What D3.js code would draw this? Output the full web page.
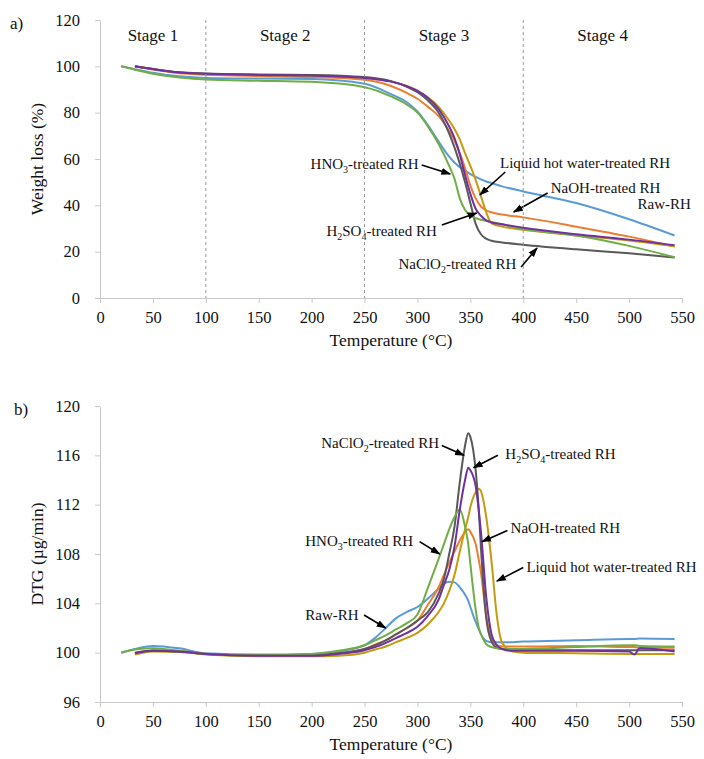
<!DOCTYPE html>
<html>
<head>
<meta charset="utf-8">
<script src="https://cdn.jsdelivr.net/npm/d3@7"></script>
<style>
body { margin: 0; background: #fff; }
svg { font-family: "Liberation Serif", "Times New Roman", serif; }
</style>
</head>
<body>
<svg id="chart" width="704" height="759"></svg>
<script>
// series order / colours
var seriesNames = ["Raw-RH", "NaOH-treated RH", "Liquid hot water-treated RH", "NaClO2-treated RH", "HNO3-treated RH", "H2SO4-treated RH"];
var seriesColors = ["#5b9bd5", "#ed7d31", "#c59a0e", "#595959", "#70ad47", "#7030a0"];

var xTicks = [0, 50, 100, 150, 200, 250, 300, 350, 400, 450, 500, 550];
var tgTicks = [0, 20, 40, 60, 80, 100, 120];
var dtgTicks = [96, 100, 104, 108, 112, 116, 120];

var stageBounds = [100, 250, 400];
var stageLabels = ["Stage 1", "Stage 2", "Stage 3", "Stage 4"];
var stageCenters = [50, 175, 325, 475];

// a) weight loss (%)
var tgTemps = [20, 33, 50, 75, 100, 150, 200, 250, 275, 290, 300, 310, 320, 330, 335, 340, 345, 350, 355, 360, 365, 370, 380, 400, 450, 500, 543];
var tgRaw    = [100, 98.8, 97.2, 95.7, 95.0, 94.7, 94.5, 92.5, 88, 84.5, 80.5, 74.5, 67.5, 61, 58.5, 56.5, 55, 53.5, 52.3, 51.2, 50.3, 49.6, 48.2, 46, 41, 34, 27];
var tgNaOH   = [null, 100, 98.6, 97, 96.4, 95.8, 95.4, 94.2, 91.5, 88.5, 86, 82.5, 78.5, 72, 68, 62.5, 56, 48.5, 43, 39.5, 37.8, 37, 36, 34.8, 30.8, 26.5, 22.2];
var tgLHW    = [null, 100, 98.8, 97.3, 96.7, 96.2, 95.9, 95, 93.5, 91.5, 89.5, 86.5, 82.5, 76.5, 73, 68.5, 62.5, 57, 51, 44, 37, 32.2, 30.8, 29.5, 27, 24.8, 22.3];
var tgNaClO2 = [null, 100, 98.8, 97.4, 96.9, 96.5, 96.3, 95.4, 93.6, 91.2, 88.8, 85.2, 80, 71, 65, 58, 50, 41, 32, 27.5, 25.6, 24.7, 24, 23, 21, 19.3, 17.5];
var tgHNO3   = [100, 98.5, 96.8, 95.2, 94.3, 93.8, 93.3, 91, 87, 83.5, 80, 74, 66.5, 57, 51.5, 43, 38, 35.5, 34.5, 33.8, 33.3, 32.8, 31.8, 29.8, 27, 22.5, 17.6];
var tgH2SO4  = [null, 100, 98.8, 97.3, 96.8, 96.3, 96, 95, 93.4, 91.4, 89.4, 86.3, 81.5, 74, 69, 62, 53, 45, 38.5, 35.5, 33.5, 32.6, 31.8, 30.3, 27.5, 25.2, 22.8];

// b) DTG (ug/min)
var dtgTemps = [20, 33, 50, 75, 100, 150, 200, 225, 250, 260, 270, 280, 290, 300, 310, 320, 325, 330, 335, 340, 345, 348, 350, 355, 358, 360, 365, 370, 375, 380, 390, 400, 450, 500, 505, 510, 543];
var dtgRaw    = [100, 100.3, 100.55, 100.35, 99.95, 99.85, 99.9, 100.1, 100.6, 101.2, 102, 102.8, 103.3, 103.7, 104.4, 105.2, 105.6, 105.75, 105.7, 105.3, 104.7, 104.2, 103.7, 102.5, 101.9, 101.5, 100.95, 100.85, 100.85, 100.85, 100.85, 100.9, 101, 101.1, 101.1, 101.15, 101.1];
var dtgNaOH   = [null, 99.95, 100.2, 100.15, 99.9, 99.8, 99.8, 99.95, 100.3, 100.65, 101, 101.5, 102, 102.6, 103.9, 105.3, 106.3, 107.3, 108.2, 109.1, 109.8, 110, 109.8, 108.8, 107.5, 106.5, 103, 101.1, 100.6, 100.5, 100.5, 100.5, 100.55, 100.45, 100.45, 100.4, 100.4];
var dtgLHW    = [null, 99.85, 100.1, 100.05, 99.85, 99.7, 99.7, 99.75, 100, 100.25, 100.5, 100.85, 101.2, 101.6, 102.3, 103.3, 104, 105, 106.3, 108.2, 110, 111, 111.8, 113, 113.3, 113.1, 111, 107.4, 103, 100.8, 100.1, 100, 99.95, 99.9, 99.9, 99.9, 99.9];
var dtgNaClO2 = [null, 100, 100.15, 100.1, 99.9, 99.8, 99.8, 99.95, 100.3, 100.6, 101, 101.5, 102, 102.6, 103.3, 104.8, 106, 108, 110.2, 113.8, 116.8, 117.8, 117.5, 114.8, 111.5, 108.5, 102.8, 100.9, 100.4, 100.3, 100.25, 100.2, 100.2, 100.2, 100.2, 100.2, 100.2];
var dtgHNO3   = [100, 100.25, 100.35, 100.15, 99.9, 99.8, 99.9, 100.15, 100.6, 101, 101.4, 101.9, 102.4, 103.1, 105.3, 107.6, 108.8, 110, 111, 111.6, 110.2, 108.8, 107.2, 103.5, 102, 101.5, 100.7, 100.45, 100.35, 100.3, 100.3, 100.3, 100.45, 100.6, 100.6, 100.55, 100.5];
var dtgH2SO4  = [null, 99.95, 100.15, 100.1, 99.9, 99.75, 99.75, 99.9, 100.2, 100.45, 100.8, 101.2, 101.6, 102.1, 103, 104.3, 105.5, 106.7, 108.6, 111.6, 114, 115, 114.8, 113.5, 111.5, 109.8, 104.5, 101.5, 100.6, 100.3, 100.15, 100.15, 100.15, 100.1, 99.85, 100.35, 100.1];

// annotations, in data units: label start, arrow from -> to
var tgNotes = [
    {label: "HNO_3-treated RH", t: 199, v: 57.8, from: [304, 57.4], to: [331, 53.5]},
    {label: "Liquid hot water-treated RH", t: 378, v: 58.3, from: [383, 54.4], to: [359, 44.5]},
    {label: "NaOH-treated RH", t: 426, v: 47.5, from: [423, 45.3], to: [391, 37.1]},
    {label: "Raw-RH", t: 508, v: 40.6},
    {label: "H_2SO_4-treated RH", t: 214, v: 28.9, from: [323, 31.5], to: [356, 36.7]},
    {label: "NaClO_2-treated RH", t: 282, v: 14.7, from: [398, 13.4], to: [413, 21.6]}
];
var dtgNotes = [
    {label: "NaClO_2-treated RH", t: 209, v: 117, from: [323, 116.8], to: [344, 116]},
    {label: "H_2SO_4-treated RH", t: 383, v: 116.1, from: [376, 116], to: [353, 115]},
    {label: "NaOH-treated RH", t: 388, v: 110.1, from: [385, 109.9], to: [361, 109]},
    {label: "HNO_3-treated RH", t: 194, v: 109.05, from: [302, 109], to: [321, 108]},
    {label: "Liquid hot water-treated RH", t: 403, v: 106.95, from: [400, 106.9], to: [375, 105.8]},
    {label: "Raw-RH", t: 194, v: 103.1, from: [249.5, 103.05], to: [270, 102]}
];

var svg = d3.select("#chart");
var axisColor = "#c8c8c8";

svg.append("defs").append("marker")
    .attr("id", "arrow")
    .attr("viewBox", "0 0 10 10")
    .attr("refX", 9).attr("refY", 5)
    .attr("markerWidth", 10).attr("markerHeight", 10)
    .attr("markerUnits", "userSpaceOnUse")
    .attr("orient", "auto")
    .append("path")
    .attr("d", "M0,1.5L10,5L0,8.5z")
    .attr("fill", "#000");

function addLabel(text, str) {
    var parts = str.split("_");
    text.append("tspan").text(parts[0]);
    for (var i = 1; i < parts.length; i++) {
        text.append("tspan").attr("dy", 4).attr("font-size", "10px").text(parts[i].charAt(0));
        text.append("tspan").attr("dy", -4).text(parts[i].slice(1));
    }
}

function drawPanel(top, bottom, yDomain, yTicks, temps, values, notes, yTitle, tag) {
    var x = d3.scaleLinear().domain([0, 550]).range([100, 682]);
    var y = d3.scaleLinear().domain(yDomain).range([bottom, top]);
    var g = svg.append("g");

    var xAxis = g.append("g")
        .attr("transform", "translate(0," + bottom + ")")
        .call(d3.axisBottom(x).tickValues(xTicks).tickSize(5).tickSizeOuter(0).tickPadding(8));
    var yAxis = g.append("g")
        .attr("transform", "translate(100,0)")
        .call(d3.axisLeft(y).tickValues(yTicks).tickSize(5).tickSizeOuter(0).tickPadding(15));
    [xAxis, yAxis].forEach(function (a) {
        a.select(".domain").attr("stroke", axisColor);
        a.selectAll(".tick line").attr("stroke", axisColor);
        a.selectAll(".tick text").attr("font-size", "16.5px").attr("fill", "#111")
            .attr("font-family", "Liberation Serif, Times New Roman, serif");
    });

    g.append("text")
        .attr("x", 391).attr("y", bottom + 48)
        .attr("text-anchor", "middle").attr("font-size", "17.5px").attr("fill", "#111")
        .text("Temperature (°C)");
    g.append("text")
        .attr("transform", "translate(37," + ((top + bottom) / 2) + ") rotate(-90)")
        .attr("text-anchor", "middle").attr("dy", "0.35em")
        .attr("font-size", "17.5px").attr("fill", "#111")
        .text(yTitle);
    g.append("text")
        .attr("x", tag == "a)" ? 10 : 14).attr("y", top + 3).attr("dy", "0.35em")
        .attr("font-size", "17px").attr("fill", "#111")
        .text(tag);

    var line = d3.line()
        .defined(function (d) { return d[1] != null; })
        .x(function (d) { return x(d[0]); })
        .y(function (d) { return y(d[1]); })
        .curve(d3.curveMonotoneX);

    g.selectAll(".series")
        .data(values)
        .enter()
        .append("path")
        .attr("class", "series")
        .attr("fill", "none")
        .attr("stroke", function (d, i) { return seriesColors[i]; })
        .attr("stroke-width", 2)
        .attr("d", function (d) {
            return line(temps.map(function (t, j) { return [t, d[j]]; }));
        });

    notes.forEach(function (n) {
        var t = g.append("text")
            .attr("x", x(n.t)).attr("y", y(n.v)).attr("dy", "0.35em")
            .attr("font-size", "15px").attr("fill", "#111");
        addLabel(t, n.label);
        if (n.from) {
            g.append("line")
                .attr("x1", x(n.from[0])).attr("y1", y(n.from[1]))
                .attr("x2", x(n.to[0])).attr("y2", y(n.to[1]))
                .attr("stroke", "#000").attr("stroke-width", 1.6)
                .attr("marker-end", "url(#arrow)");
        }
    });

    return {x: x, y: y, g: g};
}

var a = drawPanel(20, 298, [0, 120], tgTicks, tgTemps,
    [tgRaw, tgNaOH, tgLHW, tgNaClO2, tgHNO3, tgH2SO4], tgNotes, "Weight loss (%)", "a)");

// stage dividers
a.g.selectAll(".stage")
    .data(stageBounds)
    .enter()
    .append("line")
    .attr("x1", function (d) { return a.x(d); })
    .attr("x2", function (d) { return a.x(d); })
    .attr("y1", a.y(120)).attr("y2", a.y(0))
    .attr("stroke", "#9a9a9a").attr("stroke-width", 1)
    .attr("stroke-dasharray", "3,3");
a.g.selectAll(".stageLabel")
    .data(stageLabels)
    .enter()
    .append("text")
    .attr("x", function (d, i) { return a.x(stageCenters[i]); })
    .attr("y", a.y(113.5)).attr("dy", "0.35em")
    .attr("text-anchor", "middle").attr("font-size", "17px").attr("fill", "#111")
    .text(function (d) { return d; });

drawPanel(406, 702, [96, 120], dtgTicks, dtgTemps,
    [dtgRaw, dtgNaOH, dtgLHW, dtgNaClO2, dtgHNO3, dtgH2SO4], dtgNotes, "DTG (µg/min)", "b)");
</script>
</body>
</html>
